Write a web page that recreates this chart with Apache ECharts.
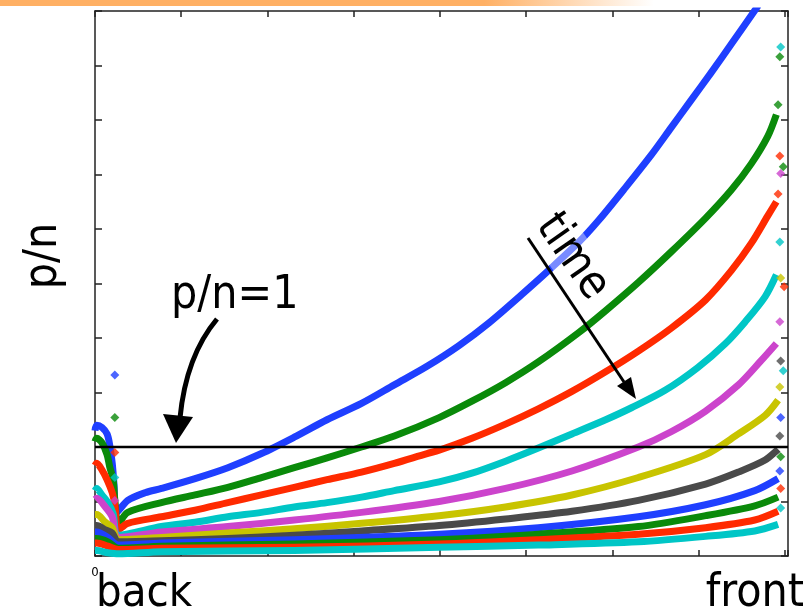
<!DOCTYPE html>
<html><head><meta charset="utf-8">
<script src="https://cdn.jsdelivr.net/npm/echarts/dist/echarts.min.js"></script>
<style>html,body{margin:0;padding:0;background:#fff}#c{width:807px;height:615px}</style>
</head><body><div id="c"></div>
<script>
// ---- data (x: position along queue 0..8, y: p/n) ----
const X_MAX = 8.035;
const Y_MAX = 5;
const pnOne = 1;
const xTickLabels = ['0'];
const seriesColors = ['#1f3fff','#0a8a0a','#ff2a00','#00c6c6','#cc44cc','#c8c400','#4a4a4a','#1f3fff','#0a8a0a','#ff2a00','#00c6c6'];

const s1Line = [[0.0,1.15],[0.02,1.20],[0.08,1.18],[0.14,1.12],[0.17,1.02],[0.20,0.85],[0.22,0.66],[0.25,0.40],[0.38,0.51],[0.58,0.58],[0.77,0.62],[1.16,0.71],[1.54,0.81],[1.93,0.94],[2.31,1.09],[2.69,1.25],[3.09,1.40],[3.47,1.57],[3.85,1.74],[4.22,1.93],[4.57,2.14],[4.95,2.40],[5.26,2.62],[5.61,2.88],[5.84,3.08],[6.15,3.38],[6.45,3.68],[6.68,3.93],[6.91,4.18],[7.14,4.43],[7.38,4.70],[7.69,5.05]];
const s1Loose = [[0.23,1.66]];
const s2Line = [[0.0,1.05],[0.02,1.08],[0.08,1.04],[0.14,0.93],[0.17,0.82],[0.21,0.70],[0.23,0.51],[0.27,0.30],[0.38,0.40],[0.77,0.49],[1.16,0.56],[1.54,0.63],[1.93,0.72],[2.31,0.81],[2.69,0.90],[3.09,1.00],[3.47,1.10],[3.99,1.27],[4.37,1.42],[4.76,1.59],[5.14,1.78],[5.61,2.05],[5.92,2.25],[6.30,2.51],[6.68,2.79],[7.08,3.10],[7.38,3.36],[7.61,3.60],[7.80,3.85],[7.90,4.05]];
const s2Loose = [[0.23,1.27],[7.92,4.14],[7.94,4.58]];
const s3Line = [[0.0,0.83],[0.02,0.85],[0.08,0.79],[0.14,0.70],[0.20,0.58],[0.23,0.47],[0.27,0.24],[0.38,0.30],[0.77,0.36],[1.16,0.42],[1.54,0.49],[1.93,0.56],[2.31,0.63],[2.69,0.70],[3.09,0.77],[3.47,0.85],[3.85,0.94],[3.99,0.97],[4.37,1.08],[4.76,1.21],[5.14,1.35],[5.53,1.51],[5.92,1.69],[6.30,1.88],[6.68,2.09],[7.08,2.35],[7.38,2.62],[7.61,2.87],[7.80,3.12],[7.90,3.25]];
const s3Loose = [[0.23,0.95],[7.92,3.32],[7.94,3.67]];
const s4Line = [[0.0,0.60],[0.02,0.62],[0.08,0.56],[0.15,0.49],[0.21,0.39],[0.27,0.19],[0.77,0.27],[1.16,0.31],[1.54,0.36],[1.93,0.40],[2.31,0.45],[2.69,0.49],[3.09,0.54],[3.47,0.60],[3.99,0.68],[4.37,0.76],[4.76,0.87],[5.14,0.99],[5.53,1.12],[5.92,1.25],[6.22,1.36],[6.61,1.52],[6.99,1.73],[7.31,1.95],[7.54,2.15],[7.77,2.38],[7.90,2.58]];
const s4Loose = [[0.23,0.72],[7.94,2.88],[7.95,4.67]];
const s5Line = [[0.0,0.52],[0.02,0.53],[0.12,0.45],[0.20,0.36],[0.27,0.17],[0.77,0.22],[1.54,0.27],[2.31,0.33],[3.09,0.40],[3.99,0.50],[4.76,0.62],[5.53,0.78],[6.30,1.00],[6.68,1.14],[7.08,1.33],[7.46,1.57],[7.72,1.79],[7.90,1.95]];
const s5Loose = [[0.23,0.51],[7.94,2.15],[7.95,3.51]];
const s6Line = [[0.0,0.38],[0.02,0.38],[0.12,0.31],[0.20,0.26],[0.27,0.15],[0.77,0.17],[1.54,0.21],[2.31,0.25],[3.09,0.30],[3.99,0.37],[4.76,0.45],[5.53,0.56],[6.30,0.72],[7.08,0.93],[7.46,1.12],[7.77,1.29],[7.92,1.43]];
const s6Loose = [[7.94,1.55],[7.95,2.55]];
const s7Line = [[0.0,0.28],[0.02,0.28],[0.12,0.24],[0.20,0.21],[0.27,0.13],[0.77,0.14],[1.54,0.16],[2.31,0.19],[3.09,0.23],[3.99,0.28],[4.76,0.34],[5.53,0.41],[6.30,0.51],[7.08,0.66],[7.46,0.77],[7.77,0.88],[7.92,0.98]];
const s7Loose = [[7.94,1.10],[7.95,1.79]];
const s8Line = [[0.0,0.22],[0.02,0.22],[0.15,0.17],[0.27,0.10],[0.77,0.12],[2.31,0.15],[3.99,0.20],[5.14,0.26],[6.30,0.36],[7.08,0.47],[7.65,0.60],[7.92,0.71]];
const s8Loose = [[7.94,0.78],[7.95,1.27]];
const s9Line = [[0.0,0.16],[0.02,0.16],[0.15,0.13],[0.27,0.07],[0.77,0.09],[2.31,0.11],[3.99,0.15],[5.14,0.20],[6.30,0.27],[7.08,0.37],[7.65,0.46],[7.92,0.54]];
const s9Loose = [[7.95,0.91],[7.98,3.57]];
const s10Line = [[0.0,0.12],[0.02,0.12],[0.15,0.09],[0.27,0.06],[0.77,0.07],[2.31,0.08],[3.99,0.11],[5.14,0.15],[6.30,0.20],[7.08,0.26],[7.65,0.33],[7.92,0.41]];
const s10Loose = [[7.95,0.62],[7.99,2.47]];
const s11Line = [[0.0,0.05],[0.02,0.05],[0.15,0.03],[0.27,0.02],[0.77,0.04],[2.31,0.05],[3.99,0.08],[5.14,0.10],[6.30,0.13],[7.08,0.18],[7.65,0.23],[7.92,0.29]];
const s11Loose = [[7.95,0.44],[7.98,1.70]];

const lines = [s1Line,s2Line,s3Line,s4Line,s5Line,s6Line,s7Line,s8Line,s9Line,s10Line,s11Line];
const looses = [s1Loose,s2Loose,s3Loose,s4Loose,s5Loose,s6Loose,s7Loose,s8Loose,s9Loose,s10Loose,s11Loose];

// ---- chart ----
const chart = echarts.init(document.getElementById('c'), null, {renderer:'canvas'});
const FONT = '"DejaVu Sans Condensed", "DejaVu Sans", sans-serif';
const axLine = {show:true, onZero:false, lineStyle:{color:'#222', width:1.5}};
function axis(extra){
  return Object.assign({type:'value', min:0, splitLine:{show:false},
    axisLine:axLine, axisTick:{show:true, inside:true, length:6, lineStyle:{color:'#222', width:1.5}},
    axisLabel:{show:false}}, extra);
}
const series = [];
lines.forEach((d,i)=>{
  series.push({type:'line', data:d, showSymbol:false, symbol:'none', smooth:0.3, clip:true,
    lineStyle:{color:seriesColors[i], width:7, join:'round'}, z:2, silent:true});
  series.push({type:'scatter', data:looses[i], symbol:'diamond', symbolSize:9,
    itemStyle:{color:seriesColors[i]}, z:3, silent:true});
});
series.push({type:'line', data:[[0,pnOne],[X_MAX,pnOne]], symbol:'none', lineStyle:{color:'#000', width:2.5}, z:10, silent:true});

chart.setOption({
  animation:false,
  backgroundColor:'#fff',
  grid:{left:95, top:11, width:693, height:545},
  xAxis:[
    axis({max:X_MAX, interval:1, position:'bottom',
      axisLabel:{show:true, formatter:v=> (v===0? xTickLabels[0] : ''), fontSize:13, color:'#000', margin:10, fontFamily:FONT}}),
    axis({max:X_MAX, interval:1, position:'top'})
  ],
  yAxis:[
    axis({max:Y_MAX, interval:0.5, position:'left', axisTick:{show:true, inside:true, length:7, lineStyle:{color:'#222', width:1.5}}}),
    axis({max:Y_MAX, interval:0.5, position:'right', axisTick:{show:true, inside:true, length:7, lineStyle:{color:'#222', width:1.5}}})
  ],
  series:series,
  graphic:[
    {type:'rect', z:100, shape:{x:0,y:0,width:807,height:6},
      style:{fill:new echarts.graphic.LinearGradient(0,0,1,0,[{offset:0,color:'#ffb064'},{offset:0.6,color:'#ffb064'},{offset:0.81,color:'#ffffff'}])}},
    {type:'text', z:100, x:44, y:256, rotation:Math.PI/2,
      style:{text:'p/n', font:'46px '+FONT, fill:'#000', align:'center', verticalAlign:'middle'}},
    {type:'text', z:100, x:171, y:296,
      style:{text:'p/n=1', font:'46px '+FONT, fill:'#000', align:'left', verticalAlign:'middle'}},
    {type:'bezierCurve', z:100, shape:{x1:217,y1:319,x2:180,y2:418,cpx1:186,cpy1:356},
      style:{stroke:'#000', lineWidth:5, fill:null}},
    {type:'polygon', z:100, shape:{points:[[163,414],[193,417],[176,443]]}, style:{fill:'#000'}},
    {type:'line', z:100, shape:{x1:528,y1:238,x2:624,y2:382}, style:{stroke:'#000', lineWidth:3}},
    {type:'polygon', z:100, shape:{points:[[617,386],[631,377],[636,399]]}, style:{fill:'#000'}},
    {type:'text', z:99, x:572, y:257, rotation:-55*Math.PI/180,
      style:{text:'time', font:'46px '+FONT, fill:'#000', align:'center', verticalAlign:'middle',
        backgroundColor:'rgba(255,255,255,0.4)', padding:[0,2]}},
    {type:'text', z:100, x:96, y:594,
      style:{text:'back', font:'45px '+FONT, fill:'#000', align:'left', verticalAlign:'middle'}},
    {type:'text', z:100, x:804, y:594,
      style:{text:'front', font:'46px '+FONT, fill:'#000', align:'right', verticalAlign:'middle'}}
  ]
});
</script></body></html>
